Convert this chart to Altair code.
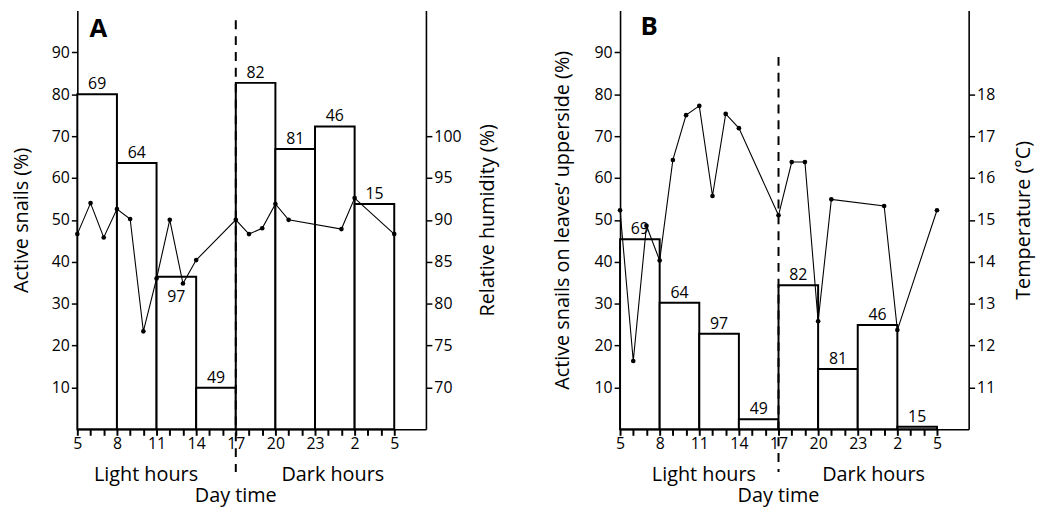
import altair as alt
import pandas as pd

FONT = "Open Sans"

# ---- data ----
bar_start = [5, 8, 11, 14, 17, 20, 23, 26]
bar_end = [8, 11, 14, 17, 20, 23, 26, 29]
n_snails = ["69", "64", "97", "49", "82", "81", "46", "15"]
active_a = [80.0, 63.6, 36.4, 9.9, 82.7, 66.9, 72.3, 53.8]
active_b = [45.4, 30.2, 22.8, 2.4, 34.4, 14.4, 24.9, 0.6]

hum_hours = [5, 6, 7, 8, 9, 10, 11, 12, 13, 14, 17, 18, 19, 20, 21, 25, 26, 29]
humidity = [88.3, 92.0, 87.9, 91.3, 90.1, 76.7, 83.0, 90.0, 82.4, 85.2,
            90.0, 88.3, 89.0, 91.9, 90.0, 88.9, 92.6, 88.3]
temp_hours = [5, 6, 7, 8, 9, 10, 11, 12, 13, 14, 17, 18, 19, 20, 21, 25, 26, 29]
temperature = [15.23, 11.63, 14.86, 14.03, 16.43, 17.50, 17.72, 15.57, 17.53, 17.19,
               15.11, 16.38, 16.38, 12.58, 15.49, 15.33, 12.37, 15.23]

hour_ticks = list(range(5, 30))
left_ticks = [10, 20, 30, 40, 50, 60, 70, 80, 90]
hum_ticks = [70, 75, 80, 85, 90, 95, 100]
temp_ticks = [11, 12, 13, 14, 15, 16, 17, 18]

W, H = 352, 423
x_scale = alt.Scale(domain=[5, 31.4], nice=False, zero=False)
y_scale = alt.Scale(domain=[0, 100], nice=False, zero=True)

x_axis = alt.Axis(
    values=hour_ticks, title=None, tickSize=6, tickWidth=2, labelPadding=0, ticks=True,
    labelFlush=False, labelOverlap=False, labelBound=False,
    labelExpr="(datum.value - 5) % 3 == 0 ? '' + (datum.value > 24 ? datum.value - 24 : datum.value) : ''",
)


def xq(field):
    return alt.X(field, type="quantitative", scale=x_scale, axis=x_axis)


def panel(letter, active, below, line_hours, line_vals, line_domain, line_ticks,
          left_title, right_title, left_tp, right_tp, light_x, dark_x, dash_top, letter_x, letter_y):
    bars_df = pd.DataFrame({
        "start": bar_start, "end": bar_end,
        "mid": [(a + b) / 2 for a, b in zip(bar_start, bar_end)],
        "active": active, "n": n_snails,
    })
    bars = alt.Chart(bars_df).mark_rect(fill="white", stroke="black", strokeWidth=2).encode(
        x=xq("start"),
        x2="end:Q",
        y=alt.Y("active:Q", scale=y_scale, axis=alt.Axis(
            values=left_ticks, title=left_title, tickSize=6, labelPadding=2,
            titlePadding=left_tp, labelFlush=False)),
        y2=alt.datum(0),
    )
    above = alt.Chart(bars_df).transform_filter(
        alt.datum.n != below
    ).mark_text(font=FONT, fontSize=16, baseline="middle", dy=-10, color="black").encode(
        x=xq("mid"), y="active:Q", text="n:N")
    below_t = alt.Chart(bars_df).transform_filter(
        alt.datum.n == below
    ).mark_text(font=FONT, fontSize=16, baseline="middle", dy=20, color="black").encode(
        x=xq("mid"), y="active:Q", text="n:N")

    rule = alt.Chart(pd.DataFrame({"h": [17]})).mark_rule(
        strokeDash=[9, 7], strokeWidth=2, color="black").encode(
        x=xq("h"), y=alt.value(dash_top), y2=alt.value(466))

    ann = alt.Chart(pd.DataFrame({"h": [light_x, dark_x], "t": ["Light hours", "Dark hours"]})).mark_text(
        font=FONT, fontSize=20, baseline="middle", color="black").encode(
        x=xq("h"), y=alt.value(469), text="t:N")
    day = alt.Chart(pd.DataFrame({"h": [17], "t": ["Day time"]})).mark_text(
        font=FONT, fontSize=20, baseline="middle", color="black").encode(
        x=xq("h"), y=alt.value(490), text="t:N")
    let = alt.Chart(pd.DataFrame({"h": [letter_x], "t": [letter]})).mark_text(
        font=FONT, fontSize=26, fontWeight="bold", baseline="middle", color="black").encode(
        x=xq("h"), y=alt.value(letter_y), text="t:N")

    left = alt.layer(bars, above, below_t, rule, ann, day, let)

    ldf = pd.DataFrame({"h": line_hours, "v": line_vals})
    line = alt.Chart(ldf).mark_line(
        color="black", strokeWidth=1.1,
        point=alt.OverlayMarkDef(filled=True, size=22, color="black")).encode(
        x=xq("h"),
        y=alt.Y("v:Q", scale=alt.Scale(domain=line_domain, nice=False, zero=False),
                axis=alt.Axis(orient="right", values=line_ticks, title=right_title,
                              tickSize=6, labelPadding=2, titlePadding=right_tp,
                              titleAngle=-90, titleBaseline="top", labelFlush=False)),
    )
    return alt.layer(left, line).resolve_scale(y="independent").properties(width=W, height=H)


pA = panel("A", active_a, "97", hum_hours, humidity, [65, 115], hum_ticks,
           "Active snails (%)", "Relative humidity  (%)", 20, 17,
           10.2, 24.35, 10, 6.6, 19)
pB = panel("B", active_b, "none", temp_hours, temperature, [10, 20], temp_ticks,
           "Active  snails on leaves\u2019 upperside (%)", "Temperature  (\u00b0C)", 22, 19,
           11.35, 24.2, 47, 7.2, 17)

chart = alt.hconcat(pA, pB, spacing=54).properties(
    padding={"left": 3, "right": 3, "top": 0, "bottom": 0}
).configure_view(
    stroke=None
).configure_axis(
    grid=False, domainColor="black", domainWidth=1.6, tickColor="black", tickWidth=1.5,
    labelFont=FONT, labelFontSize=16, labelColor="black",
    titleFont=FONT, titleFontSize=20, titleFontWeight="normal", titleColor="black",
).configure_axisX(
    labelOverlap=False, labelFlush=False, tickSize=6, tickWidth=2
).configure_text(font=FONT)

chart.save("out.html", embed_options={"renderer": "svg", "actions": False})
